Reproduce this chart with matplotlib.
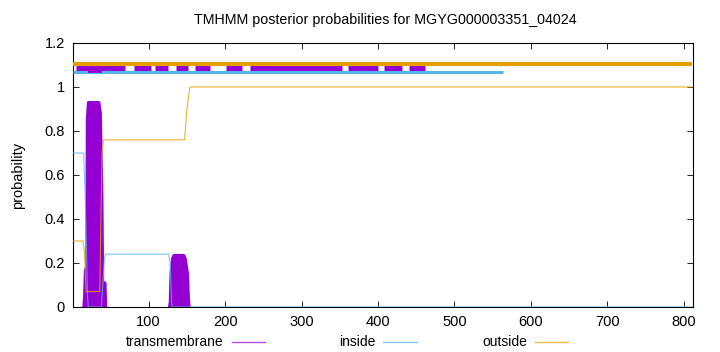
import numpy as np
import matplotlib.pyplot as plt
from matplotlib.lines import Line2D

plt.rcParams['font.family'] = ['Liberation Sans', 'DejaVu Sans']

seq_len = 811

# transmembrane posterior, two peaks (residue, probability); zero elsewhere
tm1_x = [15, 16, 17, 19, 19.5, 21, 35, 37, 39, 40, 43, 44]
tm1_y = [0, 0.05, 0.17, 0.17, 0.85, 0.93, 0.93, 0.88, 0.5, 0.11, 0.11, 0]
tm2_x = [127, 128, 129, 131, 133, 146, 148, 151, 152, 153]
tm2_y = [0, 0.02, 0.15, 0.22, 0.235, 0.235, 0.22, 0.15, 0.05, 0]

inside_x = [1, 15, 17, 20, 21, 38, 40, 42, 44, 126, 128, 130, 131, 811]
inside_y = [0.7, 0.7, 0.5, 0.05, 0, 0, 0.1, 0.22, 0.24, 0.24, 0.2, 0.02, 0, 0]

outside_x = [1, 14, 16, 18, 36, 37, 39, 41, 147, 150, 154, 811]
outside_y = [0.3, 0.3, 0.25, 0.07, 0.07, 0.3, 0.7, 0.76, 0.76, 0.9, 1.0, 1.0]

# predicted topology bars drawn above the curves
tm_bars = [(5, 69), (81, 103), (108, 125), (136, 152), (160, 180),
           (201, 222), (233, 353), (361, 400), (408, 431), (440, 462)]
tm_thick = (21, 39)
inside_bar = (1, 564)
outside_bar = (1, 811)

purple = '#9400D3'
blue = '#56B4E9'
orange = '#E69F00'

fig = plt.figure(figsize=(7.2, 3.52), dpi=100)
ax = fig.add_axes([73 / 720, 1 - 307 / 352, 620 / 720, 264 / 352])

for px, py in [(tm1_x, tm1_y), (tm2_x, tm2_y)]:
    ax.fill_between(px, 0, py, color=purple, lw=0, zorder=2)
    ax.plot(px, py, color=purple, lw=2, zorder=2)
ax.plot(inside_x, inside_y, color=blue, lw=0.8, alpha=0.8, zorder=3)
ax.plot(outside_x, outside_y, color=orange, lw=0.8, alpha=0.8, zorder=3)

ax.hlines(1.067, *inside_bar, color=blue, lw=2.2, zorder=3)
for a, b in tm_bars:
    ax.hlines(1.085, a, b, color=purple, lw=3.6, zorder=4)
ax.hlines(1.087, *tm_thick, color=purple, lw=7, zorder=4)
ax.hlines(1.106, *outside_bar, color=orange, lw=3, zorder=5)

ax.set_xlim(1, 812)
ax.set_ylim(0, 1.2)
ax.set_xticks(range(100, 801, 100))
ax.set_yticks([0, 0.2, 0.4, 0.6, 0.8, 1.0, 1.2])
ax.set_yticklabels(['0', '0.2', '0.4', '0.6', '0.8', '1', '1.2'])
ax.tick_params(direction='in', top=True, right=True, labelsize=10.5,
               length=4, width=0.6, pad=6)
for s in ax.spines.values():
    s.set_linewidth(0.8)

ax.set_ylabel('probability', fontsize=10.5, labelpad=14)
fig.text(385 / 720, 1 - 20 / 352, 'TMHMM posterior probabilities for MGYG000003351_04024',
         ha='center', va='center', fontsize=10.3)

# legend row under the axis
legend = [('transmembrane', purple, 223, 232, 265),
          ('inside', blue, 375, 383, 417),
          ('outside', orange, 527, 535, 568)]
ly = 1 - 342 / 352
for label, col, tx, x0, x1 in legend:
    fig.text(tx / 720, ly, label, ha='right', va='center', fontsize=10)
    fig.add_artist(Line2D([x0 / 720, x1 / 720], [ly, ly], color=col, lw=1, alpha=0.7))

fig.savefig('out.png', dpi=100)
